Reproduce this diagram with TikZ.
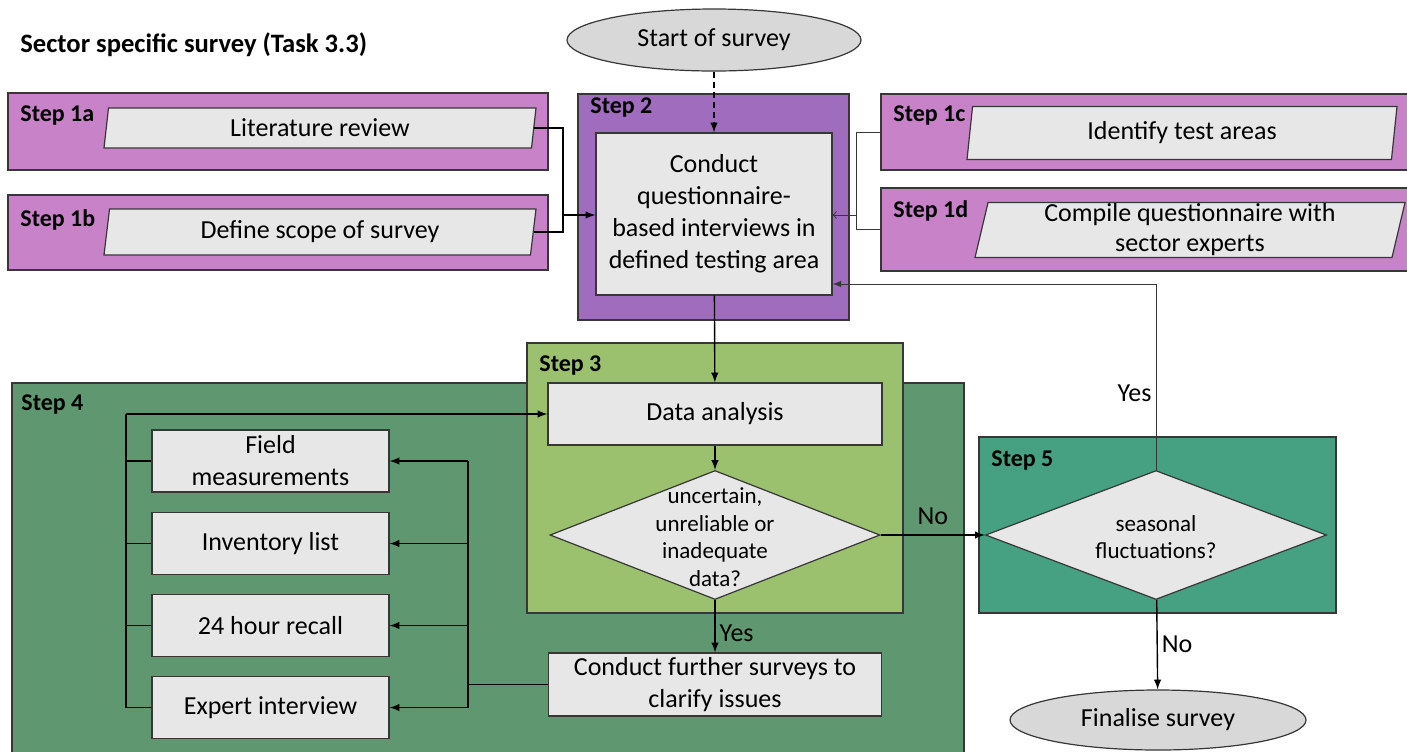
\documentclass[tikz,border=0pt]{standalone}
\usepackage{fontspec}
\setmainfont{Carlito}
\usetikzlibrary{shapes.geometric,fit,positioning}

\definecolor{stepone}{RGB}{200,130,200}
\definecolor{steptwo}{RGB}{160,108,190}
\definecolor{stepthree}{RGB}{155,192,110}
\definecolor{stepfour}{RGB}{95,152,112}
\definecolor{stepfive}{RGB}{70,160,130}
\definecolor{boxgray}{RGB}{231,231,231}
\definecolor{ovalgray}{RGB}{216,216,216}
\definecolor{edgegray}{RGB}{55,55,55}

\begin{document}
\begin{tikzpicture}[x=0.5pt, y=-0.5pt, >=latex,
  stepbox/.style={draw=edgegray, fill=#1, inner sep=0pt, line width=0.6pt},
  steplbl/.style={anchor=north west, inner sep=0pt, font=\bfseries\fontsize{12}{14}\selectfont},
  proc/.style={draw=edgegray, fill=boxgray, align=center, inner sep=0pt, line width=0.6pt,
    font=\fontsize{13}{16}\selectfont},
  para/.style={trapezium, trapezium left angle=76, trapezium right angle=104,
    trapezium stretches body, draw=edgegray, fill=boxgray, align=center, inner sep=0pt,
    line width=0.6pt, font=\fontsize{13}{15}\selectfont},
  oval/.style={ellipse, draw=edgegray, fill=ovalgray, inner sep=0pt, line width=0.6pt,
    font=\fontsize{13}{16}\selectfont},
  choice/.style={diamond, draw=edgegray, fill=boxgray, inner sep=0pt, line width=0.6pt},
  link/.style={draw=black, line width=0.7pt},
  thinlink/.style={draw=edgegray, line width=0.5pt},
  lbl/.style={font=\fontsize{13}{16}\selectfont, inner sep=2pt}]

  \useasboundingbox (0,0) rectangle (1407,751);

  \node[anchor=west, inner sep=0pt, font=\bfseries\fontsize{13.3}{15}\selectfont] (title) at (20,45) {Sector specific survey (Task 3.3)};

  \node[stepbox=stepfour, fit={(12,383) (964,760)}] (box4) {};
  \node[stepbox=stepthree, fit={(527,343) (903,613)}] (box3) {};
  \node[stepbox=stepfive, fit={(979,437) (1336,613)}] (box5) {};
  \node[stepbox=stepone, fit={(8,93) (548,170)}] (box1a) {};
  \node[stepbox=stepone, fit={(8,195) (548,270)}] (box1b) {};
  \node[stepbox=stepone, fit={(881,94) (1412,170)}] (box1c) {};
  \node[stepbox=stepone, fit={(881,188) (1412,271)}] (box1d) {};
  \node[stepbox=steptwo, fit={(578,94) (849,320)}] (box2) {};

  \node[steplbl] at (20,105) {Step 1a};
  \node[steplbl] at (20,209) {Step 1b};
  \node[steplbl] at (893,105) {Step 1c};
  \node[steplbl] at (893,200) {Step 1d};
  \node[steplbl] at (590,97) {Step 2};
  \node[steplbl] at (539,355) {Step 3};
  \node[steplbl] at (21,394) {Step 4};
  \node[steplbl] at (991,450) {Step 5};

  \node[oval, minimum width=147pt, minimum height=31pt] (start) at (714,40) {Start of survey};
  \node[oval, minimum width=148pt, minimum height=30pt] (finish) at (1158,720) {Finalise survey};

  \node[para, minimum width=216pt, minimum height=20pt] (lit) at (320,128) {Literature review};
  \node[para, minimum width=216pt, minimum height=23pt] (scope) at (320,232) {Define scope of survey};
  \node[para, minimum width=215pt, minimum height=26.5pt] (areas) at (1182,133) {Identify test areas};
  \node[para, minimum width=215pt, minimum height=27.5pt] (compile) at (1190,230) {Compile questionnaire with\\sector experts};

  \node[proc, minimum width=118pt, minimum height=81pt] (conduct) at (714,214)
    {Conduct\\questionnaire-\\based interviews in\\defined testing area};
  \node[proc, minimum width=167pt, minimum height=31pt] (analysis) at (715,414) {Data analysis};
  \node[choice, minimum width=165pt, minimum height=64.5pt] (doubt) at (715,535) {};
  \node[align=center, inner sep=0pt, font=\fontsize{11.5}{13.8}\selectfont] (doubttext) at (715,537)
    {uncertain,\\unreliable or\\inadequate\\data?};
  \node[proc, minimum width=166.5pt, minimum height=31.5pt] (further) at (715,684.5)
    {Conduct further surveys to\\clarify issues};

  \node[proc, minimum width=118.5pt, minimum height=31pt] (field) at (270.5,461) {Field\\measurements};
  \node[proc, minimum width=118.5pt, minimum height=31pt] (inventory) at (270.5,543.5) {Inventory list};
  \node[proc, minimum width=118.5pt, minimum height=31pt] (recall) at (270.5,625.5) {24 hour recall};
  \node[proc, minimum width=118.5pt, minimum height=31pt] (expert) at (270.5,707.5) {Expert interview};

  \node[choice, minimum width=170.5pt, minimum height=64.5pt] (season) at (1156,535) {};
  \node[align=center, inner sep=0pt, font=\fontsize{11.5}{13.8}\selectfont] (seasontext) at (1156,537)
    {seasonal\\fluctuations?};

  \coordinate (jleft) at (563,215);
  \coordinate (jright) at (856,215);
  \coordinate (lbus) at (126,414);
  \coordinate (rbus) at (468,684.5);
  \coordinate (ytop) at (1156,284);

  \draw[link, densely dashed, ->] (start) -- (conduct);
  \draw[link] (lit.east) -| (jleft);
  \draw[link] (scope.east) -| (jleft);
  \draw[link, ->] (jleft) -- (jleft -| conduct.west);
  \draw[thinlink] (box1c.west) -| (jright);
  \draw[thinlink] (box1d.west) -| (jright);
  \draw[thinlink, -to] (jright) -- (jright -| conduct.east);

  \draw[link, ->] (conduct) -- (analysis);
  \draw[link, ->] (analysis) -- (doubt);
  \draw[link, ->] (doubt) -- node[lbl, right, pos=.63] {Yes} (further);
  \draw[link, ->] (doubt.east) -- node[lbl, above=3pt, pos=.5] {No} (season.west);

  \draw[link] (further.west) -- (rbus);
  \draw[link] (field.east -| rbus) -- (expert.east -| rbus);
  \foreach \b in {field,inventory,recall,expert}
    \draw[link, ->] (\b.east -| rbus) -- (\b.east);
  \draw[link, ->] (lbus) -- (analysis.west);
  \draw[link] (lbus) -- (lbus |- expert.west);
  \foreach \b in {field,inventory,recall,expert}
    \draw[link] (\b.west) -- (\b.west -| lbus);

  \draw[thinlink, ->] (season.north) -- node[lbl, left, pos=.41] {Yes} (ytop) -- (conduct.east |- ytop);
  \draw[link, ->] (season) -- node[lbl, right, pos=.5] {No} (finish);

\end{tikzpicture}
\end{document}
